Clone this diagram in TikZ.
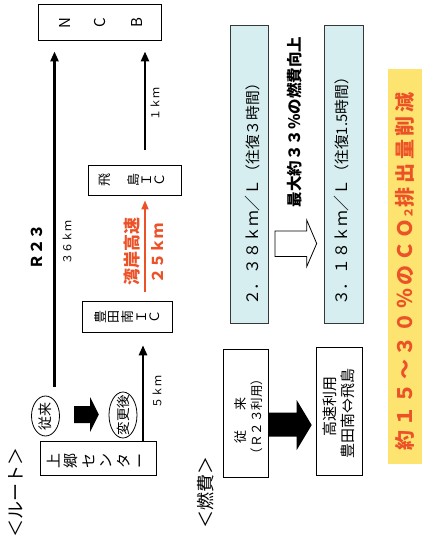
\documentclass[tikz,border=0pt]{standalone}
\usepackage{fontspec}
\setmainfont{Noto Sans CJK JP}
\newfontfamily\ylw{Noto Sans CJK JP}[LetterSpace=18]
\usetikzlibrary{arrows.meta,shapes.geometric,calc}
\definecolor{cyanfill}{RGB}{214,238,240}
\definecolor{boxline}{RGB}{55,55,55}
\definecolor{redtxt}{RGB}{236,82,40}
\definecolor{yellowfill}{RGB}{253,228,112}
\newcommand\fs[1]{\fontsize{#1}{#1}\selectfont}
\begin{document}
\begin{tikzpicture}[x=1pt,y=-1pt,
  frame/.style={draw=black,line width=0.9pt,fill=white,inner sep=0pt},
  cyanbox/.style={draw=boxline,line width=0.9pt,fill=cyanfill,inner sep=0pt},
  rtxt/.style={rotate=90,inner sep=0pt},
  vch/.style={rotate=90,inner sep=0pt,font=\fs{13}},
  oval/.style={draw=black,ellipse,line width=0.8pt,fill=white,inner sep=0pt},
  thinarrow/.style={line width=2.4pt,-{Triangle[length=10pt,width=8pt]}},
  redarrow/.style={draw=redtxt,line width=1.8pt,-{Triangle[length=9pt,width=7pt]}},
]
\useasboundingbox (0,0) rectangle (422,544);

% ---------- route part ----------
\node[frame,minimum width=122.7pt,minimum height=36pt] (ncb) at (99.7,22) {};
\node[vch,font=\fs{15}] (ncbN) at (65,23) {N};
\node[vch,font=\fs{15}] (ncbC) at (100,23) {C};
\node[vch,font=\fs{15}] (ncbB) at (137,23) {B};

\node[frame,minimum width=93.4pt,minimum height=30pt] (hida) at (135,180) {};
\node[vch] (hida1) at (105,180) {飛};
\node[vch] (hida2) at (134,180) {島};
\node[vch] (hida3) at (147,180) {Ｉ};
\node[vch] (hida4) at (160,180) {Ｃ};

\node[frame,minimum width=90pt,minimum height=30.6pt] (toyo) at (127,317) {};
\node[vch] (toyo1) at (100,317) {豊};
\node[vch] (toyo2) at (114,317) {田};
\node[vch] (toyo3) at (127.5,317) {南};
\node[vch] (toyo4) at (141.7,317) {Ｉ};
\node[vch] (toyo5) at (155,317) {Ｃ};

\node[frame,minimum width=116pt,minimum height=33.5pt] (kami) at (98,458.5) {};
\foreach \c/\px [count=\i] in {上/54,郷/71,セ/89,ン/106.5,タ/124,ー/142}
  \node[vch,font=\fs{15}] (kami\i) at (\px,461) {\c};

\node[oval,minimum width=28pt,minimum height=40pt] (old) at (45.5,416) {};
\node[rtxt,font=\fs{14}] (oldt) at (old) {従来};
\node[oval,minimum width=28pt,minimum height=46pt] (new) at (123,415) {};
\node[rtxt,font=\fs{13.5}] (newt) at (new) {変更後};

\fill (74,406) -- (90,406) -- (90,397) -- (98.8,414.5) -- (90,432) -- (90,423) -- (74,423) -- cycle;

\coordinate (r23s) at (54.5,387);
\draw[thinarrow,shorten >=11pt] (r23s) -- (r23s |- ncb.south);
\coordinate (km1s) at (145,150);
\draw[thinarrow,shorten >=11pt] (km1s) -- (km1s |- ncb.south);
\coordinate (reds) at (145,292);
\draw[redarrow,shorten >=5pt] (reds) -- (reds |- hida.south);
\coordinate (km5s) at (143,441.7);
\draw[thinarrow,shorten >=12.5pt] (km5s) -- (km5s |- toyo.south);

\node[rtxt,font=\bfseries\fs{15}] (r23) at (37,247) {Ｒ２３};
\node[rtxt,font=\fs{11}] (km36) at (67,242) {３６ｋｍ};
\node[rtxt,font=\fs{11}] (km1) at (155,104) {１ｋｍ};
\node[rtxt,font=\fs{11}] (km5) at (157,392) {５ｋｍ};
\node[rtxt,font=\bfseries\fs{17},text=redtxt] (wangan) at (131.7,251) {湾岸高速};
\node[rtxt,font=\bfseries\fs{15},text=redtxt] (km25) at (157.5,253) {２５ｋｍ};

\node[rtxt,font=\fs{18}] (route) at (16,492) {＜ルート＞};
\node[rtxt,font=\fs{18}] (fuel) at (206,492) {＜燃費＞};

% ---------- fuel part ----------
\node[cyanbox,minimum width=38.3pt,minimum height=298.3pt] (c1) at (249.15,174.15) {};
\node[cyanbox,minimum width=38.5pt,minimum height=298.3pt] (c2) at (343.75,174.15) {};
\node[rtxt,anchor=base west,font=\fs{15.8}] (c1t) at (258.8,306)
  {２．３８ｋｍ／Ｌ{\fs{14.8}（往復３時間）}};
\node[rtxt,anchor=base west,font=\fs{15.8}] (c2t) at (347.3,306)
  {３．１８ｋｍ／Ｌ{\fs{14.8}（往復1.5時間）}};

\draw[line width=0.8pt,fill=white] (275,231) -- (306.7,231) -- (306.7,220) -- (316.7,243.5)
  -- (306.7,266.7) -- (306.7,256.5) -- (275,256.5) -- cycle;
\node[rtxt,font=\bfseries\fs{15.5}] (best) at (295,122) {最大約３３％の燃費向上};

\node[frame,minimum width=45.3pt,minimum height=128pt] (oldb) at (245.65,413) {};
\node[rtxt,font=\fs{13}] (oldb1) at (241,420) {従\hspace{20pt}来};
\node[rtxt,font=\fs{12.5}] (oldb2) at (256.5,416.5) {（Ｒ２３利用）};

\node[frame,minimum width=46.3pt,minimum height=127.5pt] (newb) at (339.15,411.25) {};
\node[rtxt,font=\fs{15}] (newb1) at (330,406) {高速利用};
\node[rtxt,font=\fs{15}] (newb2) at (348,413) {豊田南⇔飛島};

\fill (268.3,412.7) -- (296.7,412.7) -- (296.7,400) -- (311.7,425) -- (296.7,450)
  -- (296.7,436.7) -- (268.3,436.7) -- cycle;

\node[fill=yellowfill,inner sep=0pt,minimum width=34pt,minimum height=395pt] (yel) at (405,266) {};
\node[rtxt,font=\ylw\bfseries\fs{20},text=redtxt] (yelt) at (405,271.5)
  {約１５～３０％のＣＯ{\fs{11}２}排出量削減};
\end{tikzpicture}
\end{document}
